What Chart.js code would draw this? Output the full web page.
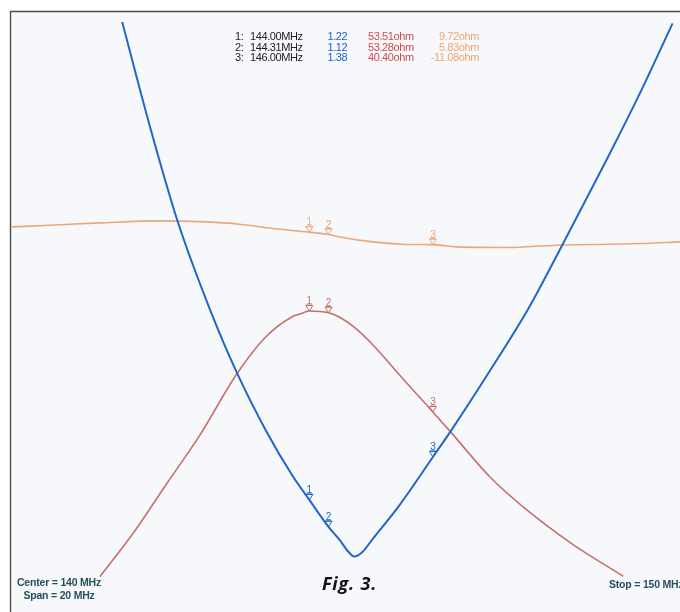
<!DOCTYPE html>
<html>
<head>
<meta charset="utf-8">
<script src="https://cdn.jsdelivr.net/npm/chart.js@4.4.1/dist/chart.umd.min.js"></script>
<style>
  html, body { margin: 0; padding: 0; background: #fff; }
  #wrap { width: 680px; height: 612px; }
</style>
</head>
<body>
<div id="wrap"><canvas id="chart" width="680" height="612"></canvas></div>
<script>
// sweep traces, frequency in MHz
const swrFreq = [140.97, 141.42, 141.87, 142.39, 142.83, 143.30, 143.73, 144.00, 144.31, 144.49, 144.62, 144.73, 144.85, 145.03, 145.46, 146.00, 146.30, 146.92, 147.54, 148.11, 148.81, 149.35, 149.88];
const swrVals = [3.00, 2.61, 2.256, 1.93, 1.692, 1.477, 1.309, 1.22, 1.12, 1.071, 1.030, 1.009, 1.024, 1.076, 1.201, 1.38, 1.48, 1.70, 1.93, 2.176, 2.486, 2.734, 2.995];

const resFreq = [140.61, 141.15, 141.69, 142.22, 142.83, 143.30, 143.73, 143.84, 144.00, 144.31, 144.49, 144.71, 145.03, 145.46, 146.00, 146.30, 146.92, 147.46, 148.27, 149.08];
const resVals = [19.05, 24.7, 31.1, 37.3, 45.4, 50.2, 52.8, 53.1, 53.51, 53.28, 52.7, 51.5, 49.1, 45.2, 40.40, 37.7, 32.0, 28.1, 23.2, 19.1];

const reaFreq = [139.18, 139.80, 140.61, 141.58, 142.33, 142.87, 143.41, 144.00, 144.31, 144.49, 145.03, 145.57, 146.00, 146.38, 147.19, 148.00, 148.81, 149.35, 150.00];
const reaVals = [18.5, 21.3, 25.2, 28.5, 26.8, 23.0, 15.8, 9.72, 5.83, 1.8, -6.5, -10.8, -11.08, -14.8, -15.8, -12.0, -10.3, -9.2, -6.5];

// marker readout
const markerNames = ['1', '2', '3'];
const markerFreq = [144.00, 144.31, 146.00];
const markerSwr = [1.22, 1.12, 1.38];
const markerRes = [53.51, 53.28, 40.40];
const markerRea = [9.72, 5.83, -11.08];

const sweepLabels = ['Center = 140 MHz', 'Span = 20 MHz', 'Stop = 150 MHz'];
const caption = 'Fig. 3.';

const blue = '#2166c9';
const red = '#c96f6c';
const orange = '#efa676';

function pts(xs, ys) {
  return xs.map((x, i) => ({ x: x, y: ys[i] }));
}

const framePlugin = {
  id: 'frame',
  beforeDraw(chart) {
    const ctx = chart.ctx;
    ctx.save();
    ctx.fillStyle = '#ffffff';
    ctx.fillRect(0, 0, chart.width, chart.height);
    ctx.fillStyle = '#f6f8fb';
    ctx.fillRect(10, 11, chart.width - 10, chart.height - 11);
    ctx.strokeStyle = '#4d4d4d';
    ctx.lineWidth = 1.4;
    ctx.beginPath();
    ctx.moveTo(10.5, chart.height);
    ctx.lineTo(10.5, 11.5);
    ctx.lineTo(chart.width, 11.5);
    ctx.stroke();
    ctx.restore();
  }
};

const markerPlugin = {
  id: 'markers',
  afterDatasetsDraw(chart) {
    const ctx = chart.ctx;
    const xs = chart.scales.x;
    const sets = [
      { scale: 'yRea', vals: markerRea, color: orange },
      { scale: 'yRes', vals: markerRes, color: red },
      { scale: 'ySwr', vals: markerSwr, color: blue }
    ];
    ctx.save();
    ctx.font = '10px "Liberation Sans", Arial, sans-serif';
    ctx.textAlign = 'center';
    ctx.textBaseline = 'alphabetic';
    sets.forEach(s => {
      const ys = chart.scales[s.scale];
      markerFreq.forEach((f, i) => {
        const px = xs.getPixelForValue(f);
        const py = ys.getPixelForValue(s.vals[i]);
        ctx.strokeStyle = s.color;
        ctx.fillStyle = s.color;
        ctx.lineWidth = 1;
        ctx.beginPath();
        ctx.moveTo(px, py);
        ctx.lineTo(px - 3.5, py - 5.5);
        ctx.lineTo(px + 3.5, py - 5.5);
        ctx.closePath();
        ctx.stroke();
        ctx.fillText(markerNames[i], px, py - 7);
        ctx.fillRect(px - 3, py - 6.5, 6, 1);
      });
    });
    ctx.restore();
  }
};

const textPlugin = {
  id: 'texts',
  afterDraw(chart) {
    const ctx = chart.ctx;
    ctx.save();
    ctx.letterSpacing = '-0.4px';
    ctx.font = '11px "Liberation Sans", Arial, sans-serif';
    ctx.textBaseline = 'middle';
    const rowY = [37, 47.5, 58];
    markerNames.forEach((n, i) => {
      const y = rowY[i];
      ctx.textAlign = 'left';
      ctx.fillStyle = '#222222';
      ctx.fillText(n + ':', 235, y);
      ctx.fillText(markerFreq[i].toFixed(2) + 'MHz', 250, y);
      ctx.fillStyle = '#1e5fd0';
      ctx.fillText(markerSwr[i].toFixed(2), 327.5, y);
      ctx.fillStyle = '#d24a4c';
      ctx.fillText(markerRes[i].toFixed(2) + 'ohm', 368, y);
      ctx.fillStyle = '#f2a470';
      ctx.textAlign = 'right';
      ctx.fillText(markerRea[i].toFixed(2) + 'ohm', 479, y);
    });

    ctx.letterSpacing = '-0.2px';
    ctx.font = 'bold 10.5px "Liberation Sans", Arial, sans-serif';
    ctx.fillStyle = '#24505c';
    ctx.textAlign = 'center';
    ctx.fillText(sweepLabels[0], 59, 583.5);
    ctx.fillText(sweepLabels[1], 59, 596.5);
    ctx.textAlign = 'left';
    ctx.fillText(sweepLabels[2], 609, 585);

    ctx.letterSpacing = '0.8px';
    ctx.font = 'italic bold 18px "Open Sans", "Noto Sans", sans-serif';
    ctx.fillStyle = '#111111';
    ctx.textAlign = 'left';
    ctx.fillText(caption, 322, 585);
    ctx.restore();
  }
};

new Chart(document.getElementById('chart'), {
  type: 'line',
  data: {
    datasets: [
      { data: pts(swrFreq, swrVals), yAxisID: 'ySwr', borderColor: blue, borderWidth: 2 },
      { data: pts(resFreq, resVals), yAxisID: 'yRes', borderColor: red, borderWidth: 1.6 },
      { data: pts(reaFreq, reaVals), yAxisID: 'yRea', borderColor: orange, borderWidth: 1.6 }
    ]
  },
  options: {
    responsive: false,
    animation: false,
    layout: { padding: { left: 11, right: 0, top: 22, bottom: 35 } },
    elements: {
      point: { radius: 0 },
      line: { cubicInterpolationMode: 'monotone', fill: false }
    },
    datasets: { line: { clip: 0 } },
    plugins: { legend: { display: false }, tooltip: { enabled: false } },
    scales: {
      x: { type: 'linear', min: 139.17, max: 150, display: false },
      ySwr: { type: 'linear', min: 0.933, max: 3.0, display: false },
      yRes: { type: 'linear', min: 19, max: 91, display: false },
      yRea: { type: 'linear', min: -565, max: 360, display: false }
    }
  },
  plugins: [framePlugin, markerPlugin, textPlugin]
});
</script>
</body>
</html>
